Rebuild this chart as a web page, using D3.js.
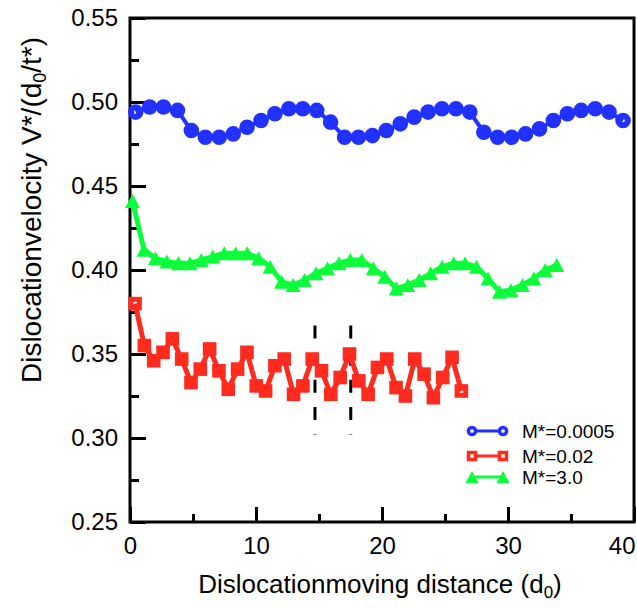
<!DOCTYPE html>
<html>
<head>
<meta charset="utf-8">
<script src="https://cdn.jsdelivr.net/npm/d3@7"></script>
<style>
  html, body { margin: 0; padding: 0; background: #fff; }
  svg { display: block; font-family: "Liberation Sans", Arial, Helvetica, sans-serif; }
</style>
</head>
<body>
<svg id="chart" width="637" height="610"></svg>
<script>
// Dislocation velocity vs. moving distance for three mass ratios M*

const blueX = [0.45, 1.56, 2.66, 3.77, 4.87, 5.98, 7.08, 8.19, 9.29, 10.40, 11.50, 12.61, 13.71,
  14.82, 15.92, 17.03, 18.13, 19.24, 20.34, 21.45, 22.55, 23.66, 24.76, 25.87, 26.97, 28.08,
  29.18, 30.29, 31.39, 32.50, 33.60, 34.71, 35.81, 36.92, 38.02, 39.13];
const blueY = [0.494, 0.497, 0.497, 0.495, 0.483, 0.479, 0.479, 0.481, 0.485, 0.489, 0.493, 0.496,
  0.496, 0.495, 0.488, 0.479, 0.479, 0.480, 0.483, 0.487, 0.491, 0.494, 0.496, 0.496, 0.494,
  0.482, 0.479, 0.479, 0.481, 0.484, 0.489, 0.493, 0.495, 0.496, 0.494, 0.489];

const redX = [0.40, 1.14, 1.88, 2.62, 3.36, 4.10, 4.84, 5.58, 6.32, 7.06, 7.80, 8.54, 9.28, 10.02,
  10.76, 11.50, 12.24, 12.98, 13.72, 14.46, 15.20, 15.94, 16.68, 17.42, 18.16, 18.90, 19.64,
  20.38, 21.12, 21.86, 22.60, 23.34, 24.08, 24.82, 25.56, 26.30];
const redY = [0.380, 0.355, 0.346, 0.351, 0.359, 0.347, 0.333, 0.341, 0.353, 0.340, 0.329, 0.341,
  0.351, 0.331, 0.328, 0.343, 0.347, 0.326, 0.331, 0.347, 0.340, 0.326, 0.336, 0.350, 0.334,
  0.326, 0.342, 0.347, 0.330, 0.325, 0.347, 0.338, 0.324, 0.336, 0.348, 0.328];

const greenX = [0.20, 1.11, 2.02, 2.93, 3.84, 4.75, 5.66, 6.57, 7.48, 8.39, 9.30, 10.21, 11.12,
  12.03, 12.94, 13.85, 14.76, 15.67, 16.58, 17.49, 18.40, 19.31, 20.22, 21.13, 22.04, 22.95,
  23.86, 24.77, 25.68, 26.59, 27.50, 28.41, 29.32, 30.23, 31.14, 32.05, 32.96, 33.87];
const greenY = [0.441, 0.412, 0.407, 0.405, 0.404, 0.404, 0.406, 0.408, 0.410, 0.410, 0.410, 0.407,
  0.402, 0.393, 0.391, 0.394, 0.398, 0.401, 0.404, 0.406, 0.406, 0.401, 0.396, 0.389, 0.391,
  0.394, 0.398, 0.402, 0.404, 0.404, 0.402, 0.395, 0.387, 0.388, 0.391, 0.395, 0.400, 0.403];

// vertical dashed guide lines
const guideX = [14.68, 17.52];
const guideY = [0.367, 0.302];

const xMajor = [0, 10, 20, 30, 40];
const xMinor = [5, 15, 25, 35];
const yMajor = [0.25, 0.30, 0.35, 0.40, 0.45, 0.50, 0.55];
const yMinor = [0.275, 0.325, 0.375, 0.425, 0.475, 0.525];

const legendLabels = ["M*=0.0005", "M*=0.02", "M*=3.0"];
const colors = { blue: "#2131ff", red: "#ff2b1f", green: "#0aff38" };

(function () {
  const svg = d3.select("#chart");
  const pl = 130, pr = 634, pt = 18, pb = 522;
  const x = d3.scaleLinear().domain([0, 40]).range([pl, pr]);
  const y = d3.scaleLinear().domain([0.25, 0.55]).range([pb, pt]);

  // axes: ticks point inward
  const yAxis = svg.append("g").attr("transform", `translate(${pl},0)`)
    .call(d3.axisLeft(y).tickValues(yMajor).tickSize(-16).tickPadding(12).tickFormat(d3.format(".2f")));
  const yAxisMinor = svg.append("g").attr("transform", `translate(${pl},0)`)
    .call(d3.axisLeft(y).tickValues(yMinor).tickSize(-9).tickFormat(""));
  const xAxis = svg.append("g").attr("transform", `translate(0,${pb})`)
    .call(d3.axisBottom(x).tickValues(xMajor).tickSize(-15).tickPadding(15));
  const xAxisMinor = svg.append("g").attr("transform", `translate(0,${pb})`)
    .call(d3.axisBottom(x).tickValues(xMinor).tickSize(-8).tickFormat(""));

  [yAxis, yAxisMinor, xAxis, xAxisMinor].forEach(g => {
    g.select(".domain").remove();
    g.selectAll(".tick line").attr("stroke", "#000").attr("stroke-width", 3);
    g.selectAll(".tick text").attr("fill", "#000").style("font-size", "24px")
      .style("font-family", '"Liberation Sans", Arial, sans-serif');
  });
  // last x label sits flush with the right frame edge
  xAxis.selectAll(".tick text").filter(d => d === 40).attr("text-anchor", "end").attr("x", 1);

  // frame
  svg.append("rect").attr("x", pl).attr("y", pt)
    .attr("width", pr - pl).attr("height", pb - pt)
    .attr("fill", "none").attr("stroke", "#000").attr("stroke-width", 3);

  // dashed guides
  guideX.forEach(gx => {
    svg.append("line")
      .attr("x1", x(gx)).attr("x2", x(gx))
      .attr("y1", y(guideY[0])).attr("y2", y(guideY[1]))
      .attr("stroke", "#000").attr("stroke-width", 3)
      .attr("stroke-dasharray", "13,14.2");
  });

  const line = d3.line().x(d => x(d[0])).y(d => y(d[1]));
  const zip = (a, b) => a.map((v, i) => [v, b[i]]);
  const triPath = (w, h) => `M0,${-h}L${w},${h}L${-w},${h}Z`;

  function drawSeries(xs, ys, color, lw, kind) {
    const pts = zip(xs, ys);
    const g = svg.append("g");
    if (kind === "circle") {
      g.selectAll("circle").data(pts).join("circle")
        .attr("cx", d => x(d[0])).attr("cy", d => y(d[1])).attr("r", 4.8)
        .attr("fill", "#fff").attr("stroke", color).attr("stroke-width", 6);
    } else if (kind === "square") {
      g.selectAll("rect").data(pts).join("rect")
        .attr("x", d => x(d[0]) - 4.3).attr("y", d => y(d[1]) - 4.3)
        .attr("width", 8.6).attr("height", 8.6)
        .attr("fill", "#fff").attr("stroke", color).attr("stroke-width", 5);
    } else {
      g.selectAll("path").data(pts).join("path")
        .attr("transform", d => `translate(${x(d[0])},${y(d[1])})`)
        .attr("d", triPath(7.5, 7)).attr("fill", color);
    }
    g.append("path").datum(pts).attr("d", line)
      .attr("fill", "none").attr("stroke", color).attr("stroke-width", lw)
      .attr("stroke-linejoin", "round");
  }

  drawSeries(greenX, greenY, colors.green, 5, "triangle");
  drawSeries(redX, redY, colors.red, 5, "square");
  drawSeries(blueX, blueY, colors.blue, 4, "circle");

  // legend
  const legendRows = [
    { label: legendLabels[0], color: colors.blue, kind: "circle", cy: 431 },
    { label: legendLabels[1], color: colors.red, kind: "square", cy: 456 },
    { label: legendLabels[2], color: colors.green, kind: "triangle", cy: 477 }
  ];
  const lx0 = 472, lx1 = 503;
  legendRows.forEach(r => {
    const g = svg.append("g");
    g.append("line").attr("x1", lx0).attr("x2", lx1).attr("y1", r.cy).attr("y2", r.cy)
      .attr("stroke", r.color).attr("stroke-width", 3);
    [lx0, lx1].forEach(px => {
      if (r.kind === "circle") {
        g.append("circle").attr("cx", px).attr("cy", r.cy).attr("r", 3.6)
          .attr("fill", "#fff").attr("stroke", r.color).attr("stroke-width", 3.5);
      } else if (r.kind === "square") {
        g.append("rect").attr("x", px - 3.5).attr("y", r.cy - 3.5).attr("width", 7).attr("height", 7)
          .attr("fill", "#fff").attr("stroke", r.color).attr("stroke-width", 3.5);
      } else {
        g.append("path").attr("transform", `translate(${px},${r.cy})`)
          .attr("d", triPath(6.5, 6)).attr("fill", r.color);
      }
    });
    g.append("text").attr("x", 522).attr("y", r.cy + 6.5).attr("fill", "#000")
      .style("font-size", "19px").text(r.label);
  });

  // axis titles
  const xt = svg.append("text").attr("x", 380).attr("y", 593).attr("text-anchor", "middle")
    .attr("fill", "#000").style("font-size", "26px");
  xt.append("tspan").text("Dislocationmoving distance (d");
  xt.append("tspan").attr("dy", 5).style("font-size", "17px").text("0");
  xt.append("tspan").attr("dy", -5).text(")");

  const yt = svg.append("text")
    .attr("transform", "translate(41,210) rotate(-90)")
    .attr("text-anchor", "middle").attr("fill", "#000").style("font-size", "28px");
  yt.append("tspan").text("Dislocationvelocity V*/(d");
  yt.append("tspan").attr("dy", 5).style("font-size", "18px").text("0");
  yt.append("tspan").attr("dy", -5).text("/t*)");
})();
</script>
</body>
</html>
